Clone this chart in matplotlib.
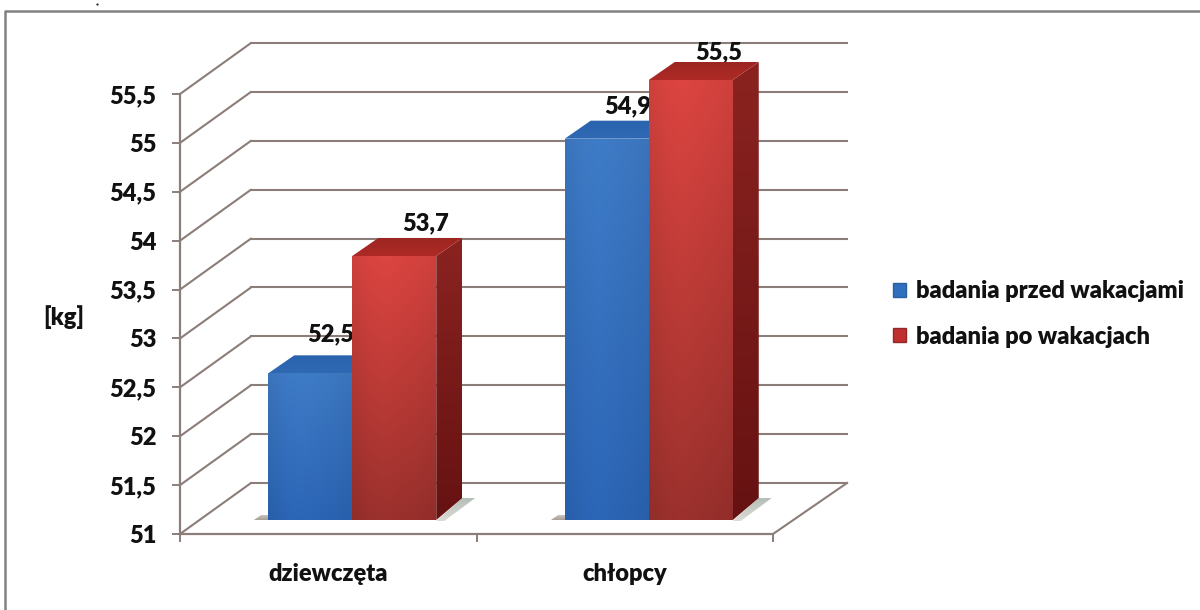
import numpy as np
import matplotlib
matplotlib.use("Agg")
import matplotlib.pyplot as plt
from matplotlib.colors import to_rgb
from matplotlib.lines import Line2D
from matplotlib.patches import Patch, Polygon

# ---- data ----
categories = ["dziewczęta", "chłopcy"]
before_holidays = [52.5, 54.9]
after_holidays = [53.7, 55.5]
series_names = ["badania przed wakacjami", "badania po wakacjach"]
y_ticks = [51, 51.5, 52, 52.5, 53, 53.5, 54, 54.5, 55, 55.5]
y_tick_labels = ["51", "51,5", "52", "52,5", "53", "53,5", "54", "54,5", "55", "55,5"]
y_unit = "[kg]"

plt.rcParams["font.family"] = ["Lato", "DejaVu Sans"]
plt.rcParams["font.weight"] = "heavy"

W, H = 1200, 610
FS = 17.0
fig = plt.figure(figsize=(W / 100, H / 100), dpi=100, facecolor="white")
L, R, B, T = 180, 773, 534, 94
ax = fig.add_axes([L / W, 1 - B / H, (R - L) / W, (B - T) / H])
ax.set_xlim(0, len(categories))
ax.set_ylim(y_ticks[0], y_ticks[-1])
ax.patch.set_visible(False)

PX_X = (R - L) / len(categories)
PX_Y = (B - T) / (y_ticks[-1] - y_ticks[0])
WALL_DX, WALL_DY = 71, 51
GRID = "#8b7d78"
TXT = "#111111"


def off(x, y, dx=0, dy=0):
    """Data point shifted by a depth offset given in pixels."""
    return (x + dx / PX_X, y + dy / PX_Y)


# frame of the pasted picture: only the top and left edges are visible
for spine in ax.spines.values():
    spine.set_visible(False)
fig.add_artist(Line2D([5 / W, 5 / W, 1], [0, 1 - 11 / H, 1 - 11 / H], transform=fig.transFigure,
                      color="#80827f", lw=1.8))
fig.add_artist(Line2D([97 / W], [1 - 3.5 / H], transform=fig.transFigure, marker="o", ms=1.6,
                      mfc="#222222", mec="none", ls="none"))

# back wall, side wall and floor lines
x0, x1 = ax.get_xlim()
for v in y_ticks:
    ax.plot(*zip(off(x0, v), off(x0, v, WALL_DX, WALL_DY)), color=GRID, lw=1.5,
            clip_on=False, zorder=1, solid_capstyle="round")
    ax.plot(*zip(off(x0, v, WALL_DX, WALL_DY), off(x1, v, WALL_DX + 3, WALL_DY)), color=GRID, lw=1.5,
            clip_on=False, zorder=1)
ax.plot(*zip(off(x1, y_ticks[0]), off(x1, y_ticks[0], WALL_DX + 3, WALL_DY)), color=GRID, lw=1.5,
        clip_on=False, zorder=1)

# real axes
ax.spines["left"].set_visible(True)
ax.spines["bottom"].set_visible(True)
for s in ("left", "bottom"):
    ax.spines[s].set_color(GRID)
    ax.spines[s].set_linewidth(1.6)
    ax.spines[s].set_zorder(2)
ax.set_yticks(y_ticks)
ax.set_yticklabels(y_tick_labels, fontsize=FS, color=TXT)
ax.tick_params(axis="y", length=6, width=1.4, color=GRID, pad=11)
ax.set_xticks(range(len(categories) + 1))
ax.set_xticklabels([""] * (len(categories) + 1))
ax.tick_params(axis="x", length=6, width=1.4, color=GRID)
ax.set_xticks([i + 0.5 for i in range(len(categories))], categories, minor=True,
              fontsize=FS, color=TXT)
ax.tick_params(axis="x", which="minor", length=0, pad=21)
fig.text(64 / W, 1 - 317 / H, y_unit, fontsize=FS, ha="center", va="center", color=TXT)


def gradient_poly(pts, top, bottom, across=None, z=3):
    poly = Polygon(pts, closed=True, transform=ax.transData, fc="none", ec="none", zorder=z)
    ax.add_patch(poly)
    xs, ys = zip(*pts)
    t = np.linspace(0, 1, 64)[:, None]
    col = (1 - t) * np.array(to_rgb(top)) + t * np.array(to_rgb(bottom))
    img = np.repeat(col[:, None, :], 32, axis=1)
    if across is not None:
        prof = np.interp(np.linspace(0, 1, 32), np.linspace(0, 1, len(across)), across)
        img = np.clip(img * prof[None, :, None], 0, 1)
    im = ax.imshow(img, extent=(min(xs), max(xs), min(ys), max(ys)), origin="upper",
                   aspect="auto", zorder=z, interpolation="bilinear")
    im.set_clip_box(fig.bbox)
    im.set_clip_path(poly)
    return im


SKINS = [
    dict(front=("#3c77c0", "#2a62b0"), top=("#2a63ae", "#2f69b4"), side=("#1f4f90", "#173c70")),
    dict(front=("#d4423e", "#962f2b"), top=("#9c2521", "#ae2a26"), side=("#8a2320", "#661212")),
]
BAR_W = 84 / PX_X
SHIFT_X, SHIFT_Y = 24, 14      # bar front plane behind the chart's front plane, px
DEPTH_X, DEPTH_Y = 26, 18      # bar depth, px
LABEL_OFFSETS = [[(20, 39), (31, 33)], [(21, 32), (28, 28)]]

base = y_ticks[0]
for i, cat in enumerate(categories):
    c = i + 0.5
    for j, (vals, skin) in enumerate(zip((before_holidays, after_holidays), SKINS)):
        v = vals[i]
        l = c + (j - 1) * BAR_W
        r = l + BAR_W
        z = 3 + j
        s, d, dx, dy = SHIFT_X, SHIFT_Y, DEPTH_X, DEPTH_Y
        if j == 0:
            gradient_poly([off(l, base, s - 14, d), off(l, base, s, d),
                           off(l, base, s, d + 5), off(l, base, s - 7, d + 5)],
                          "#c8c6c0", "#a69f94", z=2)
        else:
            gradient_poly([off(r, base, s, d - 1), off(r, base, s + 8, d - 1),
                           off(r, base, s + dx + 13, d + dy + 4), off(r, base, s + dx, d + dy + 4)],
                          "#b4bfb8", "#dcdcd6", z=2)
        # front face
        gradient_poly([off(l, base, s, d), off(r, base, s, d), off(r, v, s, d), off(l, v, s, d)],
                      *skin["front"], across=[0.97, 1.02, 1.04, 1.02, 1.0, 0.97], z=z + 0.2)
        # top face
        gradient_poly([off(l, v, s, d), off(r, v, s, d), off(r, v, s + dx, d + dy), off(l, v, s + dx, d + dy)],
                      *skin["top"], z=z + 0.1)
        # side face
        gradient_poly([off(r, base, s, d), off(r, base, s + dx, d + dy + 4),
                       off(r, v, s + dx, d + dy), off(r, v, s, d)],
                      *skin["side"], z=z)
        ox, oy = LABEL_OFFSETS[i][j]
        ax.annotate(f"{v:.1f}".replace(".", ","), xy=off(l + BAR_W / 2, v, s, d), xytext=(ox * 0.72, oy * 0.72),
                    textcoords="offset points", ha="center", va="center", fontsize=FS,
                    color=TXT, annotation_clip=False, zorder=2.5)

ax.set_xlim(x0, x1)
ax.set_ylim(y_ticks[0], y_ticks[-1])

handles = [Patch(fc="#2f6fbd", ec="#2a5f9f"), Patch(fc="#c0302f", ec="#8f2a28")]
leg = fig.legend(handles, series_names, loc="center left", bbox_to_anchor=(893 / W, 1 - 314 / H),
                 frameon=False, fontsize=FS, labelcolor=TXT, handlelength=0.55, handleheight=0.55,
                 handletextpad=0.42, labelspacing=0.98, borderpad=0, borderaxespad=0)

fig.savefig("out.png", dpi=100, facecolor="white")
